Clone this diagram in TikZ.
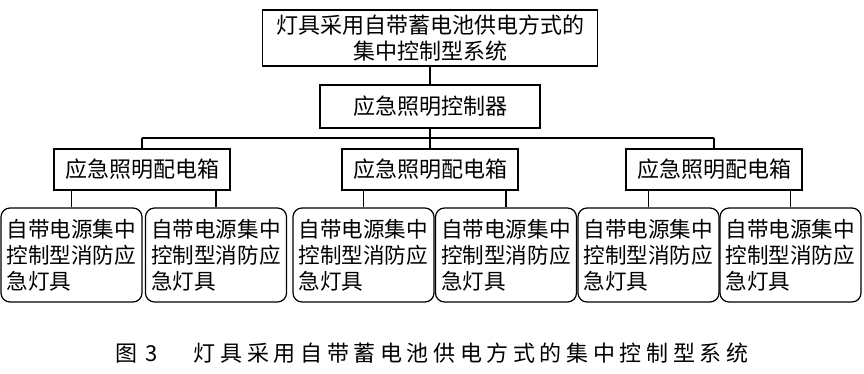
\documentclass[tikz,border=0pt]{standalone}
\usepackage{fontspec}
\newfontfamily\cjk{Noto Sans CJK SC}
\newfontfamily\cjkcap[LetterSpace=21]{Noto Sans CJK SC}
\tikzset{
  box/.style={draw, line width=1.2pt, inner sep=0pt, align=center,
    font=\cjk\fontsize{22}{26}\selectfont},
  lamp/.style={draw, line width=1.2pt, rounded corners=9pt,
    minimum width=141pt, minimum height=94pt, text width=130pt,
    inner xsep=5.5pt, inner ysep=0pt, align=left,
    font=\cjk\fontsize{21.6}{26}\selectfont},
  conn/.style={draw, line width=1.2pt}
}
\begin{document}
\begin{tikzpicture}[x=1pt,y=-1pt]
\useasboundingbox (0,0) rectangle (864,374);
% top
\node[box, minimum width=335pt, minimum height=56pt] (top) at (430,38)
  {灯具采用自带蓄电池供电方式的\\集中控制型系统};
\node[box, minimum width=220pt, minimum height=43pt] (ctrl) at (430,106.5)
  {应急照明控制器};
% distribution boxes
\node[box, minimum width=176pt, minimum height=41pt] (d1) at (142,169.5) {应急照明配电箱};
\node[box, minimum width=176pt, minimum height=41pt] (d2) at (430,169.5) {应急照明配电箱};
\node[box, minimum width=176pt, minimum height=41pt] (d3) at (714,169.5) {应急照明配电箱};
% lamps
\foreach \i/\x in {1/71.5, 2/216, 3/363.5, 4/506, 5/648.5, 6/790.5}{
  \node[lamp] (l\i) at (\x,255) {自带电源集中\\控制型消防应\\急灯具};
}
% connectors
\coordinate (busL) at (142,138);
\coordinate (busR) at (714,138);
\draw[conn] (top.south) -- (ctrl.north);
\draw[conn] (ctrl.south) -- (d2.north);
\draw[conn] (busL) -- (busR);
\draw[conn] (busL) -- (d1.north);
\draw[conn] (busR) -- (d3.north);
\draw[conn] (d1.south -| l1.north) -- (l1.north);
\draw[conn] (d1.south -| l2.north) -- (l2.north);
\draw[conn] (d2.south -| l3.north) -- (l3.north);
\draw[conn] (d2.south -| l4.north) -- (l4.north);
\draw[conn] (d3.south -| l5.north) -- (l5.north);
\draw[conn] (d3.south -| l6.north) -- (l6.north);
% caption
\node[font=\cjkcap\fontsize{22}{22}\selectfont, inner sep=0pt] (cap) at (432,353)
  {图\hspace{8pt}3\hspace{36pt}灯具采用自带蓄电池供电方式的集中控制型系统};
\end{tikzpicture}
\end{document}
